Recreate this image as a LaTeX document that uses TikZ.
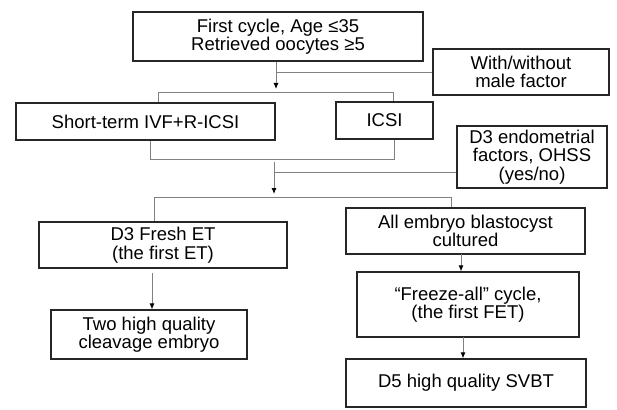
\documentclass[tikz,border=0pt]{standalone}
\usepackage{fontspec}
\setmainfont{Liberation Sans}
\usetikzlibrary{arrows.meta}
\begin{document}
\begin{tikzpicture}[x=1pt,y=-1pt,
    box/.style={draw=black!85,line width=1.2pt,fill=white,align=center,inner sep=0pt,font=\fontsize{18.5}{18.5}\selectfont},
    link/.style={draw=black!50,line width=0.9pt},
    arr/.style={link,-{Latex[length=6pt,width=5pt,black]}}]
            \useasboundingbox (0,0) rectangle (617,409);
            \draw (278,36.5) node[box,minimum width=290pt,minimum height=49pt] (start) {First cycle, Age ≤35\\Retrieved oocytes ≥5};
            \draw (521,72) node[box,minimum width=176pt,minimum height=46pt] (male) {With/without\\male factor};
            \draw (145.5,121.5) node[box,minimum width=259pt,minimum height=37pt] (short) {Short-term IVF+R-ICSI};
            \draw (384.5,120.5) node[box,minimum width=97pt,minimum height=37pt] (icsi) {ICSI};
            \draw (532,157) node[box,minimum width=150pt,minimum height=62pt] (endo) {D3 endometrial\\factors, OHSS\\(yes/no)};
            \draw (163,245) node[box,minimum width=248pt,minimum height=46pt] (fresh) {D3 Fresh ET\\(the first ET)};
            \draw (465.5,231) node[box,minimum width=239pt,minimum height=46pt] (all) {All embryo blastocyst\\cultured};
            \draw (149,334.5) node[box,minimum width=196pt,minimum height=49pt] (two) {Two high quality\\cleavage embryo};
            \draw (468,304.5) node[box,minimum width=222pt,minimum height=65pt] (freeze) {“Freeze-all” cycle,\\(the first FET)};
            \draw (466,383) node[box,minimum width=240pt,minimum height=48pt] (svbt) {D5 high quality SVBT};
            % junctions
            \coordinate (j1) at (276,89);
            \coordinate (j2) at (274,162);
            \coordinate (j3) at (274,194);
            \coordinate (j4) at (274,172);
            \coordinate (b1) at (158,92);
            \coordinate (b2) at (393,92);
            \coordinate (b3) at (150,159);
            \coordinate (b4) at (394,159);
            \coordinate (b5) at (154,197);
            \coordinate (b6) at (451,197);
            \coordinate (c1) at (152,273);
            \coordinate (c2) at (461,254);
            \coordinate (c3) at (463,337);
            \draw[arr] (start.south -| j1) -- (j1);
            \draw[link] (male.west) -- (male.west -| j1);
            \draw[link] (short.north -| b1) |- (b2) -- (icsi.north -| b2);
            \draw[link] (short.south -| b3) |- (b4) -- (icsi.south -| b4);
            \draw[arr] (j2) -- (j3);
            \draw[link] (endo.west |- j4) -- (j4);
            \draw[link] (fresh.north -| b5) |- (b6) -- (all.north -| b6);
            \draw[arr] (c1) -- (two.north -| c1);
            \draw[arr] (c2) -- (freeze.north -| c2);
            \draw[arr] (c3) -- (svbt.north -| c3);
        \end{tikzpicture}
\end{document}
